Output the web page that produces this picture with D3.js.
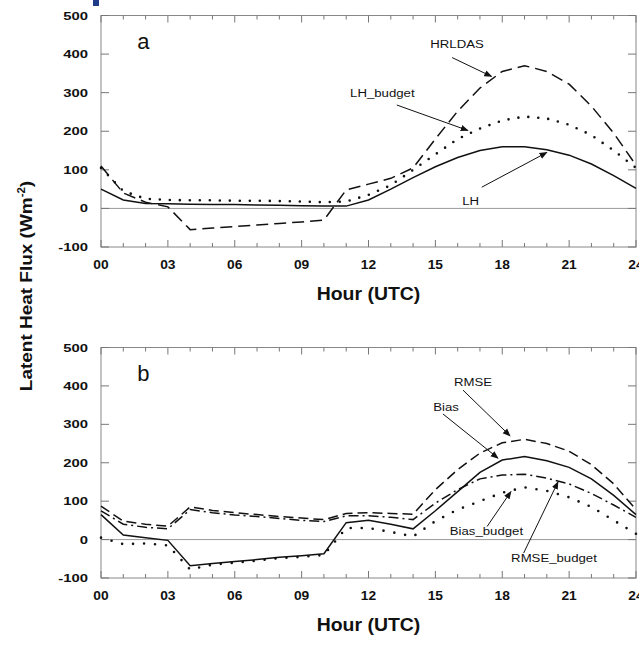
<!DOCTYPE html>
<html>
<head>
<meta charset="utf-8">
<script src="https://cdn.jsdelivr.net/npm/d3@7/dist/d3.min.js"></script>
<style>
	body { margin: 0; background: #fff; }
	svg { display: block; }
	text { font-family: "Liberation Sans", Arial, sans-serif; fill: #111; }
</style>
</head>
<body>
<div id="chart"></div>
<script>
// hours on the x axis, one value per hour
var hours = [0, 1, 2, 3, 4, 5, 6, 7, 8, 9, 10, 11, 12, 13, 14, 15, 16, 17, 18, 19, 20, 21, 22, 23, 24];
var hourTicks = [0, 3, 6, 9, 12, 15, 18, 21, 24];
var fluxTicks = [-100, 0, 100, 200, 300, 400, 500];

// panel a
var lh = [50, 22, 13, 12, 11, 10, 10, 9, 8, 7, 6, 6, 22, 50, 80, 108, 132, 150, 160, 160, 152, 138, 115, 85, 52];
var hrldas = [110, 40, 16, 4, -55, -51, -47, -43, -39, -35, -30, 48, 63, 78, 105, 180, 252, 312, 355, 370, 355, 322, 265, 195, 112];
var lhBudget = [105, 45, 25, 22, 21, 21, 20, 20, 19, 18, 16, 18, 35, 60, 100, 140, 180, 207, 228, 238, 233, 217, 190, 150, 105];

// panel b
var bias = [65, 12, 5, -2, -68, -62, -57, -52, -46, -42, -37, 44, 50, 40, 28, 75, 125, 175, 207, 216, 205, 188, 158, 115, 65];
var rmse = [87, 48, 40, 35, 85, 76, 70, 65, 60, 56, 52, 68, 70, 68, 66, 130, 182, 225, 252, 261, 250, 230, 195, 145, 78];
var biasBudget = [5, -12, -10, -15, -78, -65, -60, -55, -48, -45, -40, 30, 30, 20, 8, 48, 78, 100, 122, 136, 127, 110, 85, 50, 15];
var rmseBudget = [75, 40, 32, 28, 78, 70, 64, 60, 55, 50, 47, 62, 62, 58, 52, 95, 130, 158, 168, 170, 160, 145, 120, 90, 58];

var W = 639, H = 646;
var svg = d3.select("#chart").append("svg").attr("width", W).attr("height", H);

svg.append("defs").append("marker")
	.attr("id", "arrow")
	.attr("viewBox", "0 0 10 10")
	.attr("refX", 9).attr("refY", 5)
	.attr("markerWidth", 8).attr("markerHeight", 8)
	.attr("markerUnits", "userSpaceOnUse")
	.attr("orient", "auto")
	.append("path").attr("d", "M0,1 L10,5 L0,9 Z").attr("fill", "#111");

// little blue mark at the top edge of the scan
svg.append("rect").attr("x", 93).attr("y", 0).attr("width", 6).attr("height", 6).attr("fill", "#1f3c88");

// text stretched sideways like the scanned figure
function label(g, x, y, str, size, weight, anchor, sx, rotate) {
	var t = g.append("g")
		.attr("transform", "translate(" + x + "," + y + ")" + (rotate ? " rotate(" + rotate + ")" : "") + " scale(" + sx + ",1)")
		.append("text")
		.attr("font-size", size)
		.attr("font-weight", weight)
		.attr("text-anchor", anchor)
		.text(str);
	return t;
}

var x = d3.scaleLinear().domain([0, 24]).range([101, 636]);

function panel(top, bottom, letter, series, notes) {
	var y = d3.scaleLinear().domain([-100, 500]).range([bottom, top]);
	var g = svg.append("g");

	// frame
	g.append("rect")
		.attr("x", x(0)).attr("y", y(500))
		.attr("width", x(24) - x(0)).attr("height", y(-100) - y(500))
		.attr("fill", "none").attr("stroke", "#888").attr("stroke-width", 1);

	g.append("line")
		.attr("x1", x(0)).attr("x2", x(24))
		.attr("y1", y(0)).attr("y2", y(0))
		.attr("stroke", "#999").attr("stroke-width", 1);

	// inward ticks on all four sides
	hours.forEach(function(h) {
		var len = h % 3 === 0 ? 7 : 4;
		g.append("line").attr("x1", x(h)).attr("x2", x(h)).attr("y1", y(500)).attr("y2", y(500) + len).attr("stroke", "#777");
		g.append("line").attr("x1", x(h)).attr("x2", x(h)).attr("y1", y(-100)).attr("y2", y(-100) - len).attr("stroke", "#777");
	});
	fluxTicks.forEach(function(v) {
		g.append("line").attr("x1", x(0)).attr("x2", x(0) + 8).attr("y1", y(v)).attr("y2", y(v)).attr("stroke", "#777");
		g.append("line").attr("x1", x(24)).attr("x2", x(24) - 8).attr("y1", y(v)).attr("y2", y(v)).attr("stroke", "#777");
		label(g, 88, y(v) + 4, String(v), 11, "bold", "end", 1.35);
	});
	hourTicks.forEach(function(h) {
		label(g, x(h), y(-100) + 22, d3.format("02d")(h), 12, "bold", "middle", 1.15);
	});

	label(g, x(12), y(-100) + 53, "Hour (UTC)", 18, "bold", "middle", 1.08);
	label(g, x(1.9), y(500) + 33, letter, 22, "normal", "middle", 1);

	var line = d3.line()
		.x(function(d, i) { return x(hours[i]); })
		.y(function(d) { return y(d); });

	series.forEach(function(s) {
		g.append("path")
			.attr("d", line(s.values))
			.attr("fill", "none")
			.attr("stroke", "#111")
			.attr("stroke-width", s.width)
			.attr("stroke-linecap", s.cap || "butt")
			.attr("stroke-dasharray", s.dash || null);
	});

	notes.forEach(function(n) {
		label(g, x(n.text[0]), y(n.text[1]), n.label, 11, "normal", "middle", 1.2);
		g.append("line")
			.attr("x1", x(n.from[0])).attr("y1", y(n.from[1]))
			.attr("x2", x(n.to[0])).attr("y2", y(n.to[1]))
			.attr("stroke", "#111").attr("stroke-width", 1)
			.attr("marker-end", "url(#arrow)");
	});
}

panel(15.5, 247, "a", [
	{ values: lh, width: 1.5 },
	{ values: hrldas, width: 1.5, dash: "12,6" },
	{ values: lhBudget, width: 2.6, dash: "0,10", cap: "round" }
], [
	{ label: "HRLDAS", text: [15.97, 417], from: [15.75, 391], to: [17.52, 342] },
	{ label: "LH_budget", text: [12.62, 290], from: [13.27, 268], to: [16.46, 202] },
	{ label: "LH", text: [16.58, 9], from: [17.08, 55], to: [20.0, 145] }
]);

panel(347.5, 578, "b", [
	{ values: bias, width: 1.5 },
	{ values: rmse, width: 1.5, dash: "10,5" },
	{ values: rmseBudget, width: 1.5, dash: "10,4,2,4" },
	{ values: biasBudget, width: 2.6, dash: "0,11", cap: "round" }
], [
	{ label: "RMSE", text: [16.69, 400], from: [16.24, 389], to: [18.35, 270] },
	{ label: "Bias", text: [15.48, 335], from: [15.34, 327], to: [17.81, 212] },
	{ label: "Bias_budget", text: [17.29, 11], from: [17.32, 34], to: [18.39, 125] },
	{ label: "RMSE_budget", text: [20.32, -59], from: [18.96, -35], to: [20.5, 150] }
]);

// shared y axis title
var ytitle = svg.append("g").attr("transform", "translate(32,286) rotate(-90) scale(1.15,1)")
	.append("text")
	.attr("font-size", 16.5)
	.attr("font-weight", "bold")
	.attr("text-anchor", "middle");
ytitle.append("tspan").text("Latent Heat Flux (Wm");
ytitle.append("tspan").attr("font-size", 10).attr("dy", -7).text("-2");
ytitle.append("tspan").attr("dy", 7).text(")");
</script>
</body>
</html>
